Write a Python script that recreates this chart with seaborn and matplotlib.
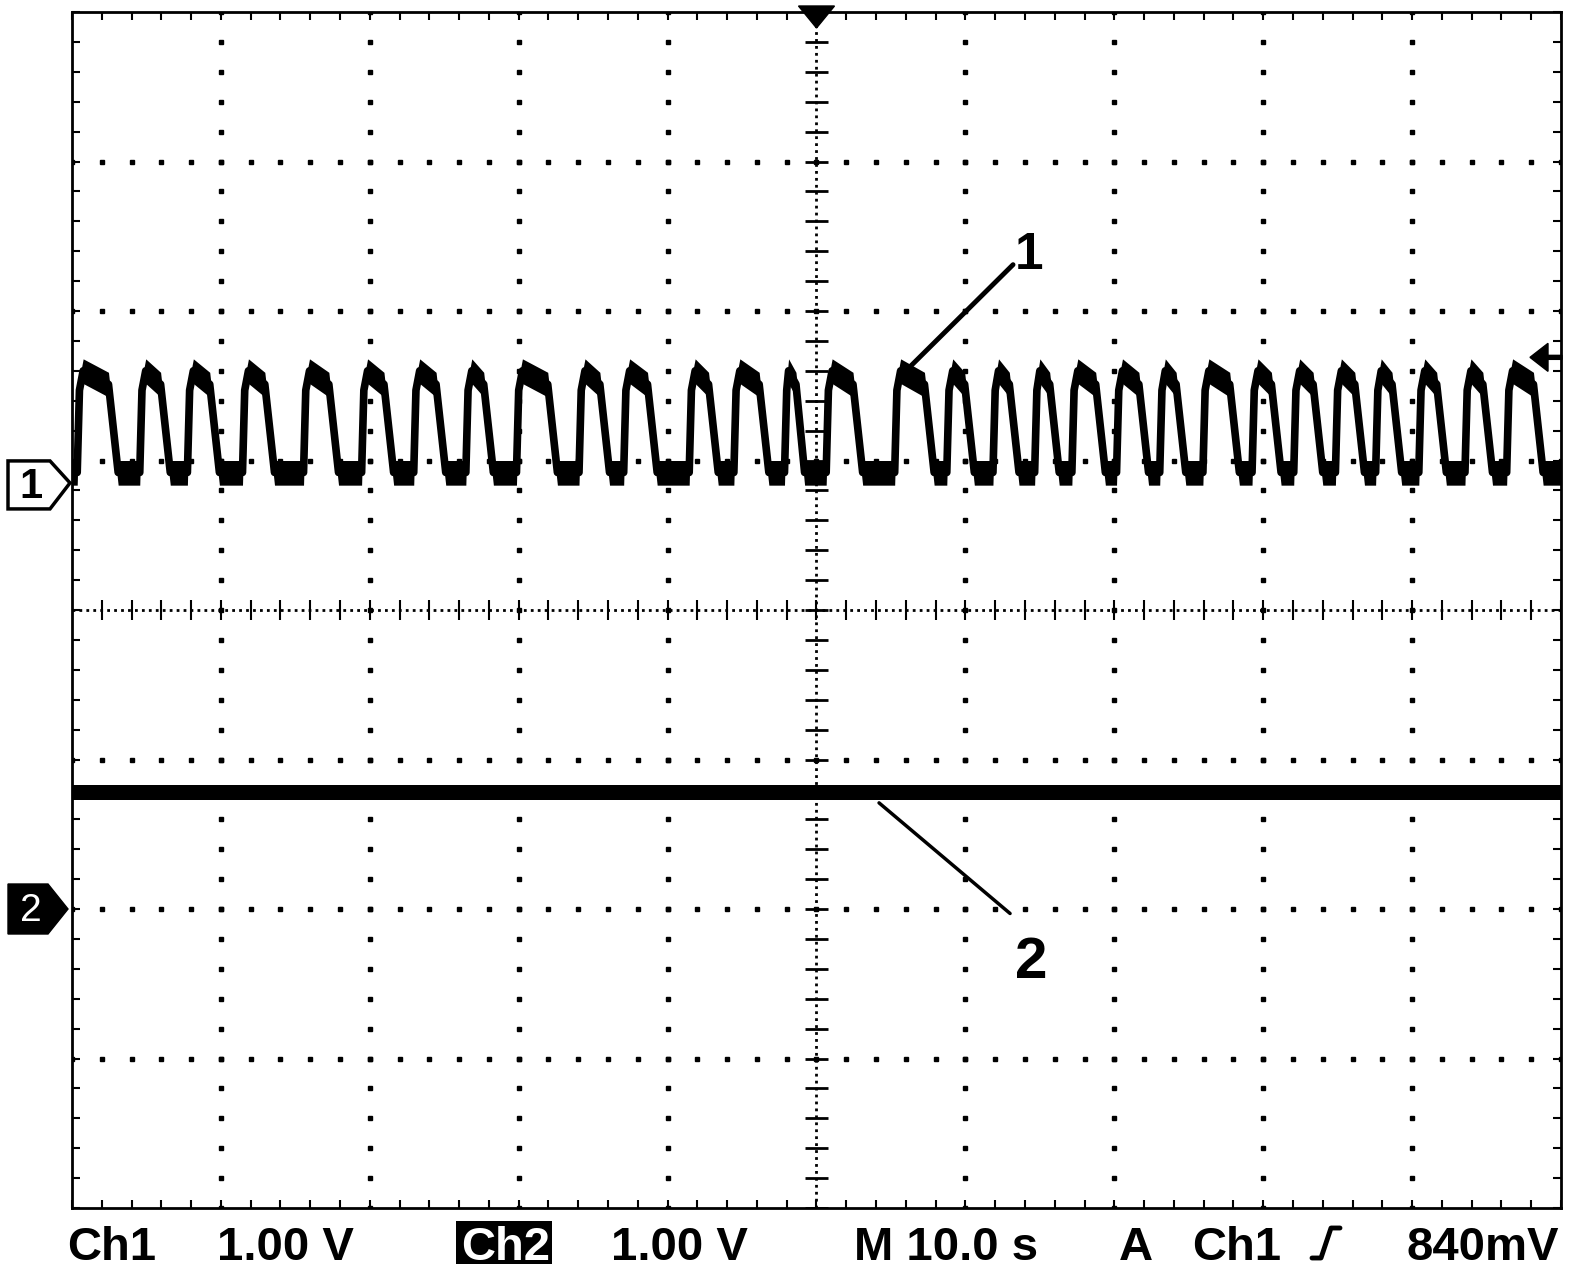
import numpy as np
import pandas as pd
import matplotlib
matplotlib.use("Agg")
import matplotlib.pyplot as plt
import seaborn as sns
from matplotlib.patches import Polygon, Rectangle
from matplotlib.lines import Line2D

W, H = 1584, 1276

# Ch1 edges, seconds (trigger point = 0)
rise_s = [-49.6, -45.4, -42.2, -38.5, -34.4, -30.5, -27.0, -23.5, -20.1, -15.9,
          -12.9, -8.5, -5.5, -2.1, 0.7, 5.3, 8.8, 11.9, 14.7, 17.2,
          20.2, 23.1, 26.0, 29.3, 32.1, 34.9, 37.6, 40.5, 43.6, 46.4]
fall_s = [-47.3, -43.8, -40.5, -36.8, -32.5, -28.8, -25.3, -22.1, -17.8, -14.3,
          -11.1, -7.0, -3.6, -1.2, 2.7, 7.5, 10.2, 13.2, 15.9, 19.0,
          21.9, 24.4, 28.0, 30.8, 33.6, 36.4, 38.9, 41.9, 45.0, 48.4]

# levels in volts (relative to each channel's ground)
ch1_low = 0.07
ch1_knee = 0.62
ch1_peak = 0.75
ch1_droop = 0.66
ch2_time = [-50.0, 50.0]
ch2_volts = [0.78, 0.78]

volts_per_div = 1.0
ch1_pos = 0.85      # divisions
ch2_pos = -2.0
trig_level = 0.84   # V on Ch1

# screen geometry (pixels)
AX_L, AX_T, AX_W, AX_H = 72, 12, 1489, 1196


def fpx(x, y):
    return (x / W, 1 - y / H)


def div_to_px(d):
    return AX_T + (4 - d) * AX_H / 8


# build the ch1 trace from the edge readings
t1 = [-50.0]
v1 = [ch1_low]
for r, f in zip(rise_s, fall_s):
    w = f - r
    t1 += [r - 0.05, r + 0.1, r + min(0.35, 0.25 * w), f - min(0.25, 0.2 * w), f + 0.4]
    v1 += [ch1_low, ch1_knee, ch1_peak, ch1_droop, ch1_low]
t1.append(50.0)
v1.append(ch1_low)

ch1 = pd.DataFrame({"time": t1, "div": np.array(v1) / volts_per_div + ch1_pos})
ch2 = pd.DataFrame({"time": ch2_time, "div": np.array(ch2_volts) / volts_per_div + ch2_pos})

sns.set_theme(style="white")
plt.rcParams["font.family"] = ["Liberation Sans", "DejaVu Sans"]
plt.rcParams["text.color"] = "black"

fig = plt.figure(figsize=(W / 100, H / 100), dpi=100)
fig.patch.set_facecolor("white")
ax = fig.add_axes([AX_L / W, 1 - (AX_T + AX_H) / H, AX_W / W, AX_H / H])
ax.set_facecolor("white")

# graticule
for k in range(1, 10):
    if k == 5:
        continue
    x = -50 + 10 * k
    yy = np.arange(-4, 4.01, 0.2)
    ax.plot(np.full(len(yy), x), yy, ls="none", marker="s", ms=2.4, color="black", zorder=1)
for k in range(1, 8):
    if k == 4:
        continue
    y = -4 + k
    xx = np.arange(-50, 50.01, 2)
    ax.plot(xx, np.full(len(xx), y), ls="none", marker="s", ms=2.4, color="black", zorder=1)

ax.axvline(0, color="black", lw=2, ls=(0, (1, 1.5)), zorder=1)
ax.axhline(0, color="black", lw=2, ls=(0, (1, 1.5)), zorder=1)
ax.hlines(np.arange(-4, 4.01, 0.2), -0.8, 0.8, color="black", lw=2, zorder=1)
ax.vlines(np.arange(-50, 50.01, 2), -0.07, 0.07, color="black", lw=1.5, zorder=1)

# traces (thick band stands in for the scope noise)
ax.fill_between(ch1["time"], ch1["div"] - 0.085, ch1["div"] + 0.08, color="black", lw=0, zorder=3)
sns.lineplot(data=ch1, x="time", y="div", sort=False, estimator=None,
             color="black", lw=5.5, ax=ax, zorder=3)
ax.fill_between(ch2["time"], ch2["div"] - 0.05, ch2["div"] + 0.05, color="black", lw=0, zorder=3)
sns.lineplot(data=ch2, x="time", y="div", sort=False, estimator=None,
             color="black", lw=3, ax=ax, zorder=3)

ax.set_xlim(-50, 50)
ax.set_ylim(-4, 4)
ax.set_xlabel("")
ax.set_ylabel("")
ax.set_xticks(np.arange(-50, 50.01, 2))
ax.set_yticks(np.arange(-4, 4.01, 0.2))
ax.tick_params(direction="in", length=6, width=1.5, color="black",
               top=True, right=True, bottom=True, left=True,
               labelbottom=False, labelleft=False)
for sp in ax.spines.values():
    sp.set_color("black")
    sp.set_linewidth(2)
    sp.set_linestyle((0, (1, 1)))

# callouts
ax.plot([5.7, 13.2], [1.57, 2.31], color="black", lw=3.5, zorder=4)
ax.text(14.3, 2.37, "1", fontsize=37, fontweight="bold", ha="center", va="center", zorder=5)
ax.plot([4.2, 13.0], [-1.29, -2.03], color="black", lw=2.5, zorder=4)
ax.text(14.4, -2.36, "2", fontsize=42, fontweight="bold", ha="center", va="center", zorder=5)

# channel ground markers
y1 = div_to_px(ch1_pos)
fig.patches.append(Polygon([fpx(8, y1 - 22), fpx(50, y1 - 22), fpx(70, y1),
                            fpx(50, y1 + 26), fpx(8, y1 + 26)], closed=True,
                           transform=fig.transFigure, facecolor="white",
                           edgecolor="black", lw=2.5))
fig.text(*fpx(31, y1 + 4), "1", fontsize=30, fontweight="bold", ha="center", va="center")

y2 = div_to_px(ch2_pos)
fig.patches.append(Polygon([fpx(8, y2 - 25), fpx(48, y2 - 25), fpx(68, y2),
                            fpx(48, y2 + 25), fpx(8, y2 + 25)], closed=True,
                           transform=fig.transFigure, facecolor="black",
                           edgecolor="black", lw=1))
fig.text(*fpx(31, y2 + 2), "2", fontsize=28, color="white", ha="center", va="center")

# trigger position marker (top) and trigger level arrow (right)
cx = AX_L + AX_W / 2
fig.patches.append(Polygon([fpx(cx - 18, 6), fpx(cx + 18, 6), fpx(cx, 28)], closed=True,
                           transform=fig.transFigure, facecolor="black", edgecolor="black"))
yt = div_to_px(ch1_pos + trig_level / volts_per_div)
fig.patches.append(Polygon([fpx(1530, yt), fpx(1548, yt - 14), fpx(1548, yt - 2),
                            fpx(1562, yt - 2), fpx(1562, yt + 2), fpx(1548, yt + 2),
                            fpx(1548, yt + 14)], closed=True,
                           transform=fig.transFigure, facecolor="black", edgecolor="black"))

# status line
base = 1260
fs = 34
fig.text(*fpx(67, base), "Ch1", fontsize=fs, fontweight="bold", va="baseline")
fig.text(*fpx(217, base), "1.00 V", fontsize=fs, fontweight="bold", va="baseline")
fig.patches.append(Rectangle(fpx(456, 1264), 96 / W, 43 / H, transform=fig.transFigure,
                             facecolor="black", edgecolor="none"))
fig.text(*fpx(461, base), "Ch2", fontsize=fs, fontweight="bold", color="white", va="baseline")
fig.text(*fpx(611, base), "1.00 V", fontsize=fs, fontweight="bold", va="baseline")
fig.text(*fpx(854, base), "M 10.0 s", fontsize=fs, fontweight="bold", va="baseline")
fig.text(*fpx(1119, base), "A", fontsize=fs, fontweight="bold", va="baseline")
fig.text(*fpx(1192, base), "Ch1", fontsize=fs, fontweight="bold", va="baseline")
slope = [fpx(1312, 1258), fpx(1321, 1258), fpx(1331, 1228), fpx(1340, 1228)]
fig.add_artist(Line2D([p[0] for p in slope], [p[1] for p in slope], color="black",
                      lw=3.5, transform=fig.transFigure))
fig.text(*fpx(1406, base), "840mV", fontsize=fs, fontweight="bold", va="baseline")

fig.savefig("out.png", dpi=100, facecolor="white")
